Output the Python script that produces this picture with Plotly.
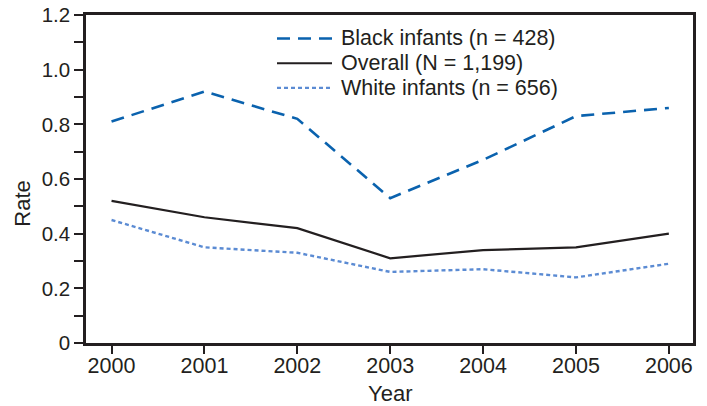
import plotly.graph_objects as go

years = [2000, 2001, 2002, 2003, 2004, 2005, 2006]
black_infants = [0.81, 0.92, 0.82, 0.53, 0.67, 0.83, 0.86]
overall = [0.52, 0.46, 0.42, 0.31, 0.34, 0.35, 0.40]
white_infants = [0.45, 0.35, 0.33, 0.26, 0.27, 0.24, 0.29]

series_names = ["Black infants (n = 428)", "Overall (N = 1,199)", "White infants (n = 656)"]
y_tickvals = [0, 0.1, 0.2, 0.3, 0.4, 0.5, 0.6, 0.7, 0.8, 0.9, 1.0, 1.1, 1.2]
y_ticktext = ["0", "", "0.2", "", "0.4", "", "0.6", "", "0.8", "", "1.0", "", "1.2"]
x_title = "Year"
y_title = "Rate"

FONT = "Liberation Sans, Arial, Helvetica, sans-serif"
INK = "#231f20"
colors = ["#0a62ae", INK, "#5b8bd3"]
widths = [2.6, 2.2, 2.4]
dashes = ["13px,8px", "solid", "4px,3px"]
series = [black_infants, overall, white_infants]

W, H = 707, 406
ML, MR, MT, MB = 86, 14, 15, 62.5
PW, PH = W - ML - MR, H - MT - MB

def px_x(p):
    return (p - ML) / PW
def px_y(p):
    return (H - MB - p) / PH

fig = go.Figure()
for name, vals, c, w, d in zip(series_names, series, colors, widths, dashes):
    fig.add_trace(go.Scatter(x=years, y=vals, mode="lines", name=name,
                             line=dict(color=c, width=w, dash=d), showlegend=False))

# manual legend (pixel layout -> paper coords)
leg_rows_px = [38.5, 63.3, 88.0]
leg_x0, leg_x1, leg_tx = 277, 332, 339
for name, c, w, d, ry in zip(series_names, colors, widths, dashes, leg_rows_px):
    fig.add_shape(type="line", xref="paper", yref="paper",
                  x0=px_x(leg_x0), x1=px_x(leg_x1), y0=px_y(ry), y1=px_y(ry),
                  line=dict(color=c, width=w, dash=d))
    fig.add_annotation(xref="paper", yref="paper", x=px_x(leg_tx), y=px_y(ry),
                       xanchor="left", yanchor="middle", showarrow=False,
                       text=name, font=dict(size=21.5, color=INK, family=FONT))

# axis titles
fig.add_annotation(xref="paper", yref="paper", x=px_x(389.5), y=px_y(394),
                   xanchor="center", yanchor="middle", showarrow=False, borderpad=0,
                   text=x_title, font=dict(size=22, color=INK, family=FONT))
fig.add_annotation(xref="paper", yref="paper", x=px_x(22.5), y=px_y(204.5),
                   xanchor="center", yanchor="middle", showarrow=False, textangle=-90,
                   text=y_title, font=dict(size=22, color=INK, family=FONT))

fig.update_layout(
    width=W, height=H,
    margin=dict(l=ML, r=MR, t=MT, b=MB),
    paper_bgcolor="white", plot_bgcolor="white",
    font=dict(family=FONT, size=21, color=INK),
    showlegend=False,
)
fig.update_xaxes(
    range=[1999.725, 2006.26], tickmode="array", tickvals=years,
    ticktext=[str(y) for y in years],
    showline=True, linewidth=2.5, linecolor=INK, mirror=True,
    ticks="outside", ticklen=8, tickwidth=2.2, tickcolor=INK,
    showgrid=False, zeroline=False, automargin=False,
    ticklabelstandoff=-7,
    tickfont=dict(size=21.5),
)
fig.update_yaxes(
    range=[0, 1.2], tickmode="array", tickvals=y_tickvals, ticktext=y_ticktext,
    showline=True, linewidth=2.5, linecolor=INK, mirror=True,
    ticks="outside", ticklen=9, tickwidth=2.2, tickcolor=INK,
    showgrid=False, zeroline=False, automargin=False,
    tickfont=dict(size=20.5),
)

fig.write_html("out.html", config={"displayModeBar": False},
               post_script="document.body.style.margin='0px';document.body.style.overflow='hidden';")
